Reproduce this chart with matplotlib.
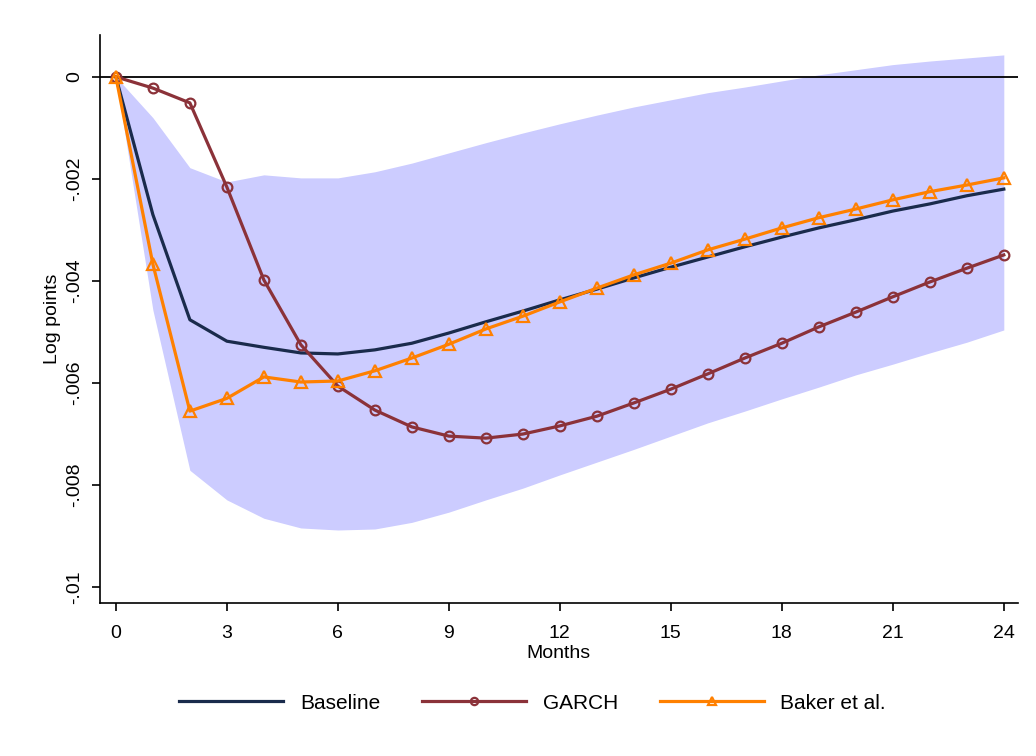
import numpy as np
import matplotlib.pyplot as plt

plt.rcParams['font.family'] = ['Liberation Sans', 'DejaVu Sans']

months = list(range(25))
baseline = [0, -0.0027, -0.00476, -0.00518, -0.0053, -0.00541, -0.00543, -0.00535, -0.00522,
            -0.00502, -0.0048, -0.00459, -0.00437, -0.00416, -0.00394, -0.00373, -0.00353,
            -0.00333, -0.00314, -0.00296, -0.0028, -0.00263, -0.00249, -0.00233, -0.0022]
garch = [0, -0.00022, -0.00051, -0.00216, -0.00398, -0.00525, -0.00606, -0.00653, -0.00686,
         -0.00704, -0.00708, -0.007, -0.00684, -0.00665, -0.00639, -0.00612, -0.00582,
         -0.00551, -0.00522, -0.0049, -0.00461, -0.00431, -0.00402, -0.00375, -0.00349]
baker = [0, -0.00367, -0.00655, -0.0063, -0.00588, -0.00598, -0.00596, -0.00576, -0.00551,
         -0.00524, -0.00494, -0.00469, -0.00441, -0.00414, -0.00388, -0.00365, -0.00339,
         -0.00318, -0.00296, -0.00276, -0.00259, -0.00241, -0.00225, -0.00212, -0.00198]
band_hi = [0, -0.0008, -0.00178, -0.00206, -0.00192, -0.00198, -0.00198, -0.00186, -0.00169,
           -0.00149, -0.00129, -0.0011, -0.00092, -0.00075, -0.00059, -0.00045, -0.00031,
           -0.0002, -0.00008, 0.00004, 0.00014, 0.00024, 0.00031, 0.00037, 0.00043]
band_lo = [0, -0.00457, -0.00771, -0.00829, -0.00865, -0.00884, -0.00888, -0.00886, -0.00873,
           -0.00853, -0.00829, -0.00806, -0.0078, -0.00755, -0.0073, -0.00704, -0.00678,
           -0.00655, -0.00631, -0.00608, -0.00584, -0.00563, -0.00541, -0.0052, -0.00496]

yticks = [0, -0.002, -0.004, -0.006, -0.008, -0.01]
ytick_labels = ['0', '-.002', '-.004', '-.006', '-.008', '-.01']

fig = plt.figure(figsize=(10.36, 7.56), dpi=100)
ax = fig.add_axes([0.0965, 0.2024, 0.886, 0.7513])

ax.fill_between(months, band_lo, band_hi, color='#ccccff', linewidth=0, zorder=1)
ax.axhline(0, color='black', linewidth=1.3, zorder=2)
ax.plot(months, baseline, color='#1a2b4c', linewidth=2.3, label='Baseline', zorder=3)
ax.plot(months, garch, color='#8b3239', linewidth=2.3, marker='o', markersize=7,
        markerfacecolor='none', markeredgewidth=1.6, label='GARCH', zorder=4)
ax.plot(months, baker, color='#ff8000', linewidth=2.3, marker='^', markersize=8,
        markerfacecolor='none', markeredgewidth=1.6, label='Baker et al.', zorder=5)

ax.set_xlim(-0.43, 24.38)
ax.set_ylim(-0.01031, 0.00082)
ax.set_xticks(range(0, 25, 3))
ax.set_yticks(yticks)
ax.set_yticklabels(ytick_labels, rotation=90, va='center')
ax.tick_params(axis='both', direction='out', length=6, width=1.2, labelsize=14)
ax.tick_params(axis='x', pad=10)
ax.tick_params(axis='y', pad=6)
for s in ['top', 'right']:
    ax.spines[s].set_visible(False)
for s in ['left', 'bottom']:
    ax.spines[s].set_linewidth(1.2)

ax.set_xlabel('Months', fontsize=14, labelpad=2)
ax.set_ylabel('Log points', fontsize=14, labelpad=4)

leg = fig.legend(loc='center', bbox_to_anchor=(0.514, 0.07), ncol=3, frameon=False,
                 fontsize=15, handlelength=5.0, columnspacing=2.0, handletextpad=0.8,
                 markerscale=0.75)

fig.savefig('out.png', dpi=100)
